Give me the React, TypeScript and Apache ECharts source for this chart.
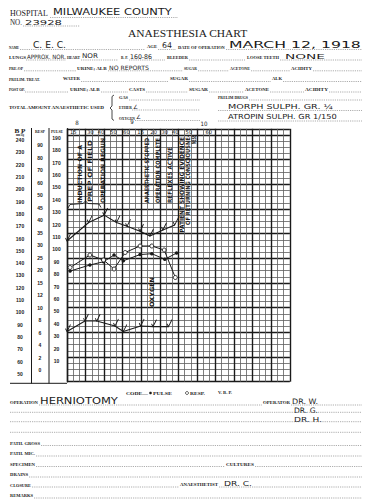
import React, { useEffect, useRef } from 'react';
import * as echarts from 'echarts';

// ---- chart data ----
const bpTicks = [50, 60, 70, 80, 90, 100, 110, 120, 130, 140, 150, 160, 170, 180, 190, 200, 210, 220, 230, 240];
const respTicks = ['0', '2', '4', '6', '8', '10', '12', '15', '20', '25', '30', '35', '40', '45', '50', '60', '70', '80', '90'];
const pulseTicks = [10, 20, 30, 40, 50, 60, 70, 80, 90, 100, 110, 120, 130, 140, 150, 160, 170, 180, 190];
const timeLabels = ['15', '30', '40', '50', '60', '15', '20', '30', '40', '50', '60'];
const timeSlots = [1, 3.8, 5.5, 7.5, 9.6, 11.9, 14, 15.8, 17.5, 19.7, 22.9];
const hourLabels = ['8', '9', '10'];

const systolicX = [0, 3.5, 6, 8, 9.7, 11.8, 13.4, 15.5, 17.4];
const systolicBP = [158, 173, 179, 173, 170, 166, 162, 167, 171];
const diastolicX = [0, 2.9, 4.8, 7.75, 9.1, 11.9, 13.9, 16.4];
const diastolicBP = [84.5, 93, 93, 89, 84.5, 89, 88.5, 88.5];
const pulseX = [0.5, 3.7, 5.9, 7.6, 9.1, 11.8, 13.7, 15.8, 17.7];
const pulseRate = [82.5, 87.4, 90, 95.4, 90.8, 95.8, 96.5, 92, 97];
const respX = [0.5, 3.7, 5.9, 7.6, 9.4, 11.8, 13.7, 15.7, 17.5];
const respRate = [21, 26, 24, 20.4, 27, 29.6, 29.6, 28, 17];

const annotations = [
  'INDUCTION OF A',
  'PREP OF FIELD',
  'OPERATION BEGUN',
  'ANAESTHETIC STOPPED',
  'OPERATION COMPLETE',
  'REFLEXES ACTIVE',
  'PATIENT SHOWING EVIDENCE',
  'OF RETURNING CONSCIOUSNE-',
  'NESS',
  'OXYGEN',
];

// ---- layout ----
const GL = 67, GT = 128.8, GW = 222.8, GH = 252.9;
const SERIF = '"Liberation Serif", "DejaVu Serif", serif';
const HAND = '"DejaVu Sans", sans-serif';
const INK = '#1a1a1a';
const THIN = '#5e5e5e';

let mctx: CanvasRenderingContext2D | null = null;
function measure(text: string, size: number, family: string, weight: string) {
  if (!mctx) mctx = document.createElement('canvas').getContext('2d');
  if (!mctx) return text.length * size * 0.6;
  mctx.font = `${weight} ${size}px ${family}`;
  return mctx.measureText(text).width || 1;
}

type TOpt = { family?: string; weight?: string; align?: string; rot?: boolean; fill?: string };
function T(text: string, x: number, y: number, w: number, size: number, o: TOpt = {}) {
  const family = o.family || SERIF;
  const weight = o.weight || 'bold';
  const m = measure(text, size, family, weight);
  const align = o.rot ? 'center' : (o.align || 'left');
  return {
    type: 'text', x, y, z: 100,
    rotation: o.rot ? Math.PI / 2 : 0,
    scaleX: w / m,
    style: {
      text, fontSize: size, fontFamily: family, fontWeight: weight, fill: o.fill || INK,
      align, textAlign: align, verticalAlign: 'middle', textVerticalAlign: 'middle',
    },
  };
}
function H(text: string, x: number, y: number, w: number, size: number, o: TOpt = {}) {
  return T(text, x, y, w, size, { family: HAND, weight: 'normal', ...o });
}
function L(x1: number, y1: number, x2: number, y2: number, dash = true, width = 0.6, color = '#777') {
  return {
    type: 'line', z: 100,
    shape: { x1, y1, x2, y2 },
    style: { stroke: color, lineWidth: width, lineDash: dash ? [1.2, 1] : null },
  };
}
const P = 4.6;

function buildGraphic() {
  const g: any[] = [];
  // header
  g.push(T('HOSPITAL', 10, 14, 38, 7.5, { weight: 'normal' }));
  g.push(H('MILWAUKEE COUNTY', 53, 12.5, 119, 8));
  g.push(L(50, 17.5, 178, 17.5));
  g.push(T('NO.', 10, 23, 12, 7.5, { weight: 'normal' }));
  g.push(H('23928', 25, 22, 37, 7));
  g.push(L(23, 26, 80, 26));
  g.push(T('ANAESTHESIA CHART', 128, 33.5, 120, 10.5, { weight: 'normal' }));
  // row 1
  g.push(T('NAME', 9, 47, 10, P));
  g.push(H('C. E. C.', 33, 45.5, 33, 8));
  g.push(L(20, 49.5, 145, 49.5));
  g.push(T('AGE', 147, 47, 10, P));
  g.push(H('64', 162, 45.5, 10, 8));
  g.push(L(158, 49.5, 176, 49.5));
  g.push(T('DATE OF OPERATION', 178, 47, 47, P));
  g.push(H('MARCH 12, 1918', 229, 45.5, 132, 8));
  g.push(L(226, 49.5, 362, 49.5));
  // row 2
  g.push(T('LUNGS', 9, 57.5, 17, P));
  g.push(H('APPROX. NOR.', 27, 56.8, 39, 6));
  g.push(L(26, 60, 66, 60));
  g.push(T('HEART', 67, 57.5, 13, P));
  g.push(H('NOR', 82, 56.5, 16, 6.5));
  g.push(L(81, 60, 118, 60));
  g.push(T('B. P.', 121, 57.5, 7, P));
  g.push(H('160-86', 130, 56.5, 22, 6.5));
  g.push(L(129, 60, 165, 60));
  g.push(T('BLEEDER', 167, 57.5, 21, P));
  g.push(L(189, 60, 245, 60));
  g.push(T('LOOSE TEETH', 247, 57.5, 32, P));
  g.push(H('NONE', 285, 56.5, 40, 7.5));
  g.push(L(280, 60, 362, 60));
  // row 3
  g.push(T('PRE-OP', 9, 68.3, 14, P));
  g.push(L(24, 70.8, 76, 70.8));
  g.push(T('URINE; ALB', 77, 68.3, 30, P));
  g.push(H('NO REPORTS', 109, 67.5, 40, 6));
  g.push(L(108, 70.8, 183, 70.8));
  g.push(T('SUGAR', 184, 68.3, 13, P));
  g.push(L(198, 70.8, 229, 70.8));
  g.push(T('ACETONE', 230, 68.3, 20, P));
  g.push(L(251, 70.8, 290, 70.8));
  g.push(T('ACIDITY', 291, 68.3, 21, P));
  g.push(L(313, 70.8, 362, 70.8));
  // row 4
  g.push(T('PRELIM. TREAT.', 9, 79, 31, P));
  g.push(T('WATER', 63, 79, 17, P));
  g.push(L(81, 81.5, 169, 81.5));
  g.push(T('SUGAR', 170, 79, 18, P));
  g.push(L(189, 81.5, 271, 81.5));
  g.push(T('ALK', 272, 79, 10, P));
  g.push(L(283, 81.5, 362, 81.5));
  // row 5
  g.push(T('POST OP.', 9, 89.7, 16, P));
  g.push(L(25, 92, 69, 92));
  g.push(T('URINE; ALB', 70, 89.7, 30, P));
  g.push(L(101, 92, 128, 92));
  g.push(T('CASTS', 129, 89.7, 16, P));
  g.push(L(146, 92, 188, 92));
  g.push(T('SUGAR', 189, 89.7, 19, P));
  g.push(L(209, 92, 244, 92));
  g.push(T('ACETONE', 245, 89.7, 24, P));
  g.push(L(270, 92, 304, 92));
  g.push(T('ACIDITY', 305, 89.7, 23, P));
  g.push(L(329, 92, 362, 92));
  // anaesthetic block
  g.push(T('TOTAL AMOUNT ANAESTHETIC USED', 9, 107.7, 96, P));
  g.push({
    type: 'polyline', z: 100,
    shape: { points: [[114, 95], [112, 96.5], [112, 106], [110, 108], [112, 110], [112, 119], [114, 120.5]] },
    style: { stroke: INK, lineWidth: 0.8, fill: null },
  });
  g.push(T('GAS', 119, 97.7, 9, P));
  g.push(L(129, 100, 200, 100));
  g.push(T('ETHER', 119, 107.7, 13, P));
  g.push(H('∠', 133, 107, 5, 6));
  g.push(L(132, 110, 200, 110));
  g.push(T('OXYGEN', 119, 118, 16, P));
  g.push(H('∠', 136, 117.3, 5, 6));
  g.push(L(135, 120.5, 200, 120.5));
  g.push(T('PRELIM DRUGS', 218, 97.7, 30, P));
  g.push(L(249, 100, 362, 100));
  g.push(H('MORPH SULPH. GR. ¼', 228, 106.7, 105, 7));
  g.push(L(218, 110.5, 362, 110.5));
  g.push(H('ATROPIN SULPH. GR 1/150', 228, 117, 109, 7));
  g.push(L(218, 121, 362, 121));
  // hour marks
  g.push(H(hourLabels[0], 77, 122.5, 3.5, 6, { align: 'center' }));
  g.push(H(hourLabels[1], 132, 122.3, 3.5, 6, { align: 'center' }));
  g.push(H(hourLabels[2], 204, 124, 7, 6, { align: 'center' }));
  // left column headers
  g.push(T('B P', 20, 131, 11, 5.5, { align: 'center' }));
  g.push(T('mm Hg', 20, 135, 8, 3.5, { align: 'center' }));
  g.push(T('RESP', 40, 131.5, 10, 4, { align: 'center' }));
  g.push(T('PULSE', 57, 131.5, 12, 4, { align: 'center' }));
  g.push(L(31.5, 128, 31.5, 383.5, false, 1, INK));
  g.push(L(49, 128, 49, 383.5, false, 1, INK));
  g.push(L(10, 383.3, 67, 383.3, false, 1, INK));
  // annotations (rotated)
  const ann: [number, number, number][] = [
    [79.5, 174, 58], [90.5, 171, 62], [102.5, 170.5, 65], [146.5, 170.5, 65], [158, 170.5, 65],
    [170, 175, 56], [182, 185, 96], [188, 180, 90], [194, 139.5, 9], [151.5, 292, 30],
  ];
  annotations.forEach((a, i) => {
    const [x, y, w] = ann[i];
    g.push(H(a, x, y, w, 6, { rot: true, weight: 'bold' }));
  });
  g.push({
    type: 'polyline', z: 100,
    shape: { points: [[68, 208], [70, 204.5], [83, 203.5], [85.5, 201], [88, 203.5], [99, 204], [101, 207.5]] },
    style: { stroke: INK, lineWidth: 0.9, fill: null },
  });
  // legend
  g.push(T('CODE—', 126, 393, 22, P));
  g.push({ type: 'circle', z: 100, shape: { cx: 150.5, cy: 393, r: 1.3 }, style: { fill: INK } });
  g.push(T('PULSE', 153, 393, 19, P));
  g.push({ type: 'circle', z: 100, shape: { cx: 187, cy: 393, r: 1.5 }, style: { fill: 'none', stroke: INK, lineWidth: 0.7 } });
  g.push(T('RESP.', 190, 393, 15, P));
  g.push(T('V. B. P.', 218, 393, 14, P));
  // bottom form
  g.push(T('OPERATION', 10, 402.7, 28, P));
  g.push(H('HERNIOTOMY', 40, 400.7, 78, 8));
  g.push(L(39, 405, 262, 405));
  g.push(T('OPERATOR', 263, 402.7, 27, P));
  g.push(H('DR. W.', 292, 401.3, 26, 7.5));
  g.push(L(291, 405, 362, 405));
  g.push(H('DR. G.', 294, 410.7, 24, 7.5));
  g.push(H('DR. H.', 294, 419, 28, 7.5));
  g.push(L(10, 412.3, 362, 412.3));
  g.push(L(10, 421.7, 362, 421.7));
  g.push(L(10, 432.3, 362, 432.3));
  g.push(T('PATH. GROSS', 10, 443.3, 30, P));
  g.push(L(41, 445.5, 362, 445.5));
  g.push(T('PATH. MIC.', 10, 454, 25, P));
  g.push(L(36, 456, 362, 456));
  g.push(T('SPECIMEN', 10, 464.3, 25, P));
  g.push(L(36, 466.5, 225, 466.5));
  g.push(T('CULTURES', 226, 464.3, 28, P));
  g.push(L(255, 466.5, 362, 466.5));
  g.push(T('DRAINS', 10, 474.7, 18, P));
  g.push(L(29, 477, 362, 477));
  g.push(T('CLOSURE', 10, 485, 21, P));
  g.push(L(32, 487, 179, 487));
  g.push(T('ANAESTHETIST', 180, 485, 38, P));
  g.push(H('DR. C.', 224, 483.5, 28, 7.5));
  g.push(L(219, 487, 362, 487));
  g.push(T('REMARKS', 10, 495.7, 23, P));
  g.push(L(34, 498, 362, 498));
  return g;
}

const hidden = {
  axisLine: { show: false }, axisTick: { show: false }, axisLabel: { show: false }, splitLine: { show: false },
};
const labelFont = { fontSize: 5, fontWeight: 'bold' as const, fontFamily: '"Liberation Sans", sans-serif', color: INK };
const checkSymbol = 'path://M0,6 L3,10 L10,0';

export default function App() {
  const ref = useRef<HTMLDivElement>(null);
  useEffect(() => {
    if (!ref.current) return;
    const chart = echarts.init(ref.current, null, { renderer: 'svg' });
    const checkSeries = (name: string, xs: number[], ys: number[]) => ({
      name, type: 'line', xAxisIndex: 0, yAxisIndex: 3,
      data: xs.map((x, i) => [x, ys[i]]),
      symbol: checkSymbol, symbolSize: [5, 7], symbolOffset: [1, -3.5],
      itemStyle: { color: 'transparent', borderColor: INK, borderWidth: 1 },
      lineStyle: { color: INK, width: 1.1 }, z: 10,
    });
    chart.setOption({
      animation: false,
      backgroundColor: '#ffffff',
      grid: { left: GL, top: GT, width: GW, height: GH, containLabel: false, outerBoundsMode: 'none' },
      xAxis: [
        {
          type: 'value', min: 0, max: 36, interval: 3, position: 'bottom',
          axisLine: { show: false }, axisTick: { show: false }, axisLabel: { show: false },
          splitLine: { show: true, lineStyle: { color: INK, width: 1.4 } },
          minorTick: { show: false, splitNumber: 3 },
          minorSplitLine: { show: true, lineStyle: { color: THIN, width: 0.8 } },
        },
        {
          type: 'value', min: 0, max: 36, position: 'top',
          axisLine: { show: false }, axisTick: { show: false }, splitLine: { show: false },
          axisLabel: {
            inside: true, margin: 3.3, verticalAlign: 'middle',
            customValues: timeSlots,
            formatter: (v: number) => timeLabels[timeSlots.indexOf(v)] ?? '',
            ...labelFont, fontFamily: HAND, fontWeight: 'normal', fontSize: 5.2,
          },
        },
      ],
      yAxis: [
        {
          type: 'value', min: 0, max: 41, interval: 1,
          axisLine: { show: false }, axisTick: { show: false }, axisLabel: { show: false },
          splitLine: { show: true, lineStyle: { color: THIN, width: 0.8 } },
        },
        {
          type: 'value', min: 0, max: 41, interval: 4,
          axisLine: { show: true, lineStyle: { color: INK, width: 1.4 } }, axisTick: { show: false }, axisLabel: { show: false },
          splitLine: { show: true, lineStyle: { color: INK, width: 1.4 } },
        },
        {
          type: 'value', min: -6.7, max: 197.2, position: 'left',
          axisLine: { show: false }, axisTick: { show: false }, splitLine: { show: false },
          axisLabel: { customValues: pulseTicks, margin: 10.5, align: 'center', ...labelFont },
        },
        {
          type: 'value', min: 43.75, max: 249.1, position: 'left',
          axisLine: { show: false }, axisTick: { show: false }, splitLine: { show: false },
          axisLabel: { customValues: bpTicks, margin: 47, align: 'center', ...labelFont },
        },
        {
          type: 'value', min: -0.936, max: 19.3, position: 'left',
          axisLine: { show: false }, axisTick: { show: false }, splitLine: { show: false },
          axisLabel: {
            customValues: respTicks.map((_, i) => i), margin: 27, align: 'center',
            formatter: (v: number) => respTicks[Math.round(v)] ?? '', ...labelFont,
          },
        },
        { type: 'value', min: -24.68, max: 76.48, ...hidden },
      ],
      series: [
        checkSeries('Systolic B.P.', systolicX, systolicBP),
        checkSeries('Diastolic B.P.', diastolicX, diastolicBP),
        {
          name: 'Pulse', type: 'line', xAxisIndex: 0, yAxisIndex: 2,
          data: pulseX.map((x, i) => [x, pulseRate[i]]),
          symbol: 'circle', symbolSize: 3.5,
          itemStyle: { color: INK }, lineStyle: { color: INK, width: 1 }, z: 10,
        },
        {
          name: 'Resp.', type: 'line', xAxisIndex: 0, yAxisIndex: 5,
          data: respX.map((x, i) => [x, respRate[i]]),
          symbol: 'circle', symbolSize: 4,
          itemStyle: { color: '#ffffff', borderColor: INK, borderWidth: 0.9 },
          lineStyle: { color: INK, width: 1 }, z: 10,
        },
      ],
      graphic: { elements: buildGraphic() },
    });
    return () => chart.dispose();
  }, []);
  return <div ref={ref} style={{ position: 'fixed', left: 0, top: 0, width: 368, height: 500, background: '#fff' }} />;
}
